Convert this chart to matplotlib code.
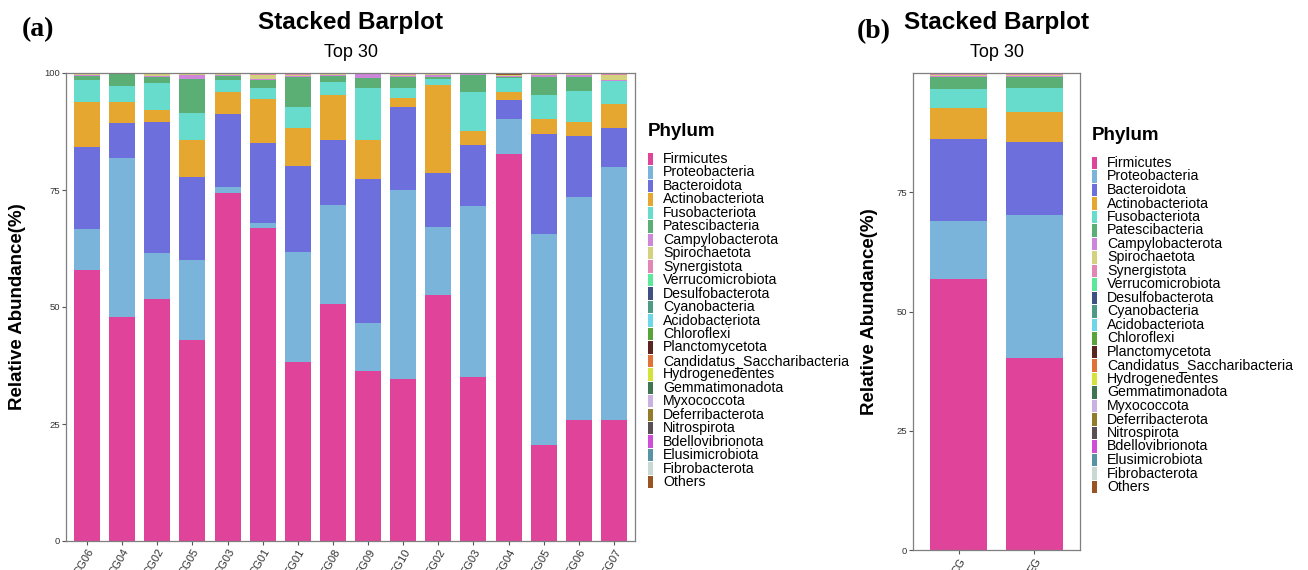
import matplotlib
matplotlib.use('Agg')
import matplotlib.pyplot as plt
from matplotlib.patches import Rectangle
from matplotlib.transforms import ScaledTranslation
import numpy as np

plt.rcParams['font.family'] = ['Liberation Sans', 'DejaVu Sans']

# --- data ---
phyla = ['Firmicutes', 'Proteobacteria', 'Bacteroidota', 'Actinobacteriota', 'Fusobacteriota',
         'Patescibacteria', 'Campylobacterota', 'Spirochaetota', 'Synergistota', 'Verrucomicrobiota',
         'Desulfobacterota', 'Cyanobacteria', 'Acidobacteriota', 'Chloroflexi', 'Planctomycetota',
         'Candidatus_Saccharibacteria', 'Hydrogenedentes', 'Gemmatimonadota', 'Myxococcota',
         'Deferribacterota', 'Nitrospirota', 'Bdellovibrionota', 'Elusimicrobiota', 'Fibrobacterota',
         'Others']
colors = ['#E0449A', '#7AB4DA', '#6D6FDD', '#E5A72F', '#67DCCC',
          '#5BAF74', '#CD86D9', '#D4D27E', '#E486B5', '#5CE89B',
          '#3F5183', '#4F9A85', '#6DD6E8', '#5AA33B', '#582520',
          '#E07238', '#D4E33C', '#3F7550', '#C9B2E1',
          '#937B2C', '#5B4F56', '#CE4ED8', '#5793A2', '#C9D8D3',
          '#9A5424']

samples_a = ['CG06', 'CG04', 'CG02', 'CG05', 'CG03', 'CG01', 'EG01', 'EG08',
             'EG09', 'EG10', 'EG02', 'EG03', 'EG04', 'EG05', 'EG06', 'EG07']
firmicutes_a = [57.9, 47.9, 51.7, 42.9, 74.4, 66.8, 38.2, 50.6, 36.3, 34.7, 52.5, 35.0, 82.7, 20.5, 25.8, 25.8]
proteo_a = [8.8, 34.0, 9.8, 17.1, 1.3, 1.1, 23.6, 21.2, 10.2, 40.3, 14.6, 36.6, 7.4, 45.2, 47.6, 54.2]
bactero_a = [17.5, 7.5, 28.0, 17.8, 15.5, 17.1, 18.3, 13.8, 30.9, 17.7, 11.5, 13.0, 4.2, 21.3, 13.2, 8.3]
actino_a = [9.6, 4.5, 2.7, 7.8, 4.8, 9.5, 8.2, 9.8, 8.3, 1.9, 18.8, 3.0, 1.7, 3.2, 2.9, 5.1]
fuso_a = [4.7, 3.3, 5.7, 5.9, 2.5, 2.4, 4.4, 2.6, 11.2, 2.1, 1.3, 8.3, 3.0, 5.2, 6.7, 4.8]
patesci_a = [0.8, 2.6, 1.2, 7.3, 0.9, 1.6, 6.5, 1.4, 2.0, 2.4, 0.5, 3.7, 0.2, 3.8, 3.0, 0.0]
campylo_a = [0.2, 0.1, 0.3, 0.7, 0.2, 0.3, 0.2, 0.2, 0.8, 0.3, 0.3, 0.1, 0.2, 0.3, 0.4, 0.4]
spiro_a = [0.2, 0.05, 0.3, 0.2, 0.2, 0.8, 0.2, 0.2, 0.1, 0.2, 0.2, 0.1, 0.1, 0.2, 0.1, 1.0]
synerg_a = [0.1, 0.0, 0.1, 0.1, 0.1, 0.1, 0.1, 0.1, 0.1, 0.2, 0.1, 0.1, 0.1, 0.1, 0.1, 0.1]
others_a = [0.2, 0.05, 0.2, 0.2, 0.1, 0.3, 0.3, 0.1, 0.1, 0.2, 0.2, 0.1, 0.4, 0.2, 0.2, 0.3]

samples_b = ['CG', 'EG']
firmicutes_b = [56.8, 40.3]
proteo_b = [12.2, 29.9]
bactero_b = [17.2, 15.4]
actino_b = [6.5, 6.3]
fuso_b = [3.9, 4.9]
patesci_b = [2.5, 2.3]
campylo_b = [0.3, 0.3]
spiro_b = [0.2, 0.2]
synerg_b = [0.1, 0.1]
others_b = [0.3, 0.3]

W, H = 1308, 570
fig = plt.figure(figsize=(W / 100, H / 100), dpi=100)


def px_axes(l, t, r, b):
    return fig.add_axes([l / W, 1 - b / H, (r - l) / W, (b - t) / H])


def stack(ax, samples, series):
    # series: dict phylum -> values, drawn in legend order
    x = np.arange(len(samples))
    bottom = np.zeros(len(samples))
    for name, col in zip(phyla, colors):
        vals = np.array(series.get(name, np.zeros(len(samples))), dtype=float)
        ax.bar(x, vals, width=0.74, bottom=bottom, color=col, linewidth=0)
        bottom += vals
    ax.set_xlim(-0.6, len(samples) - 0.4)
    ax.set_ylim(0, 100)
    ax.set_xticks(x)
    ax.set_xticklabels(samples, rotation=60, ha='right', va='top',
                       rotation_mode='anchor', fontsize=8, color='#333333')
    # ggplot-like hjust: nudge the rotated labels a little to the right
    shift = ScaledTranslation(5 / 100, 0, fig.dpi_scale_trans)
    for lbl in ax.get_xticklabels():
        lbl.set_transform(lbl.get_transform() + shift)
    for s in ax.spines.values():
        s.set_color('#7f7f7f')
        s.set_linewidth(0.9)
    ax.tick_params(axis='both', colors='#555555', length=3, width=0.8, pad=1.5,
                   labelsize=6.8, labelcolor='#333333')
    ax.tick_params(axis='x', labelsize=8)
    ax.set_ylabel('Relative Abundance(%)', fontsize=13.5, fontweight='bold', labelpad=13)


def legend(x_key, x_text, y_title, y_first, dy):
    fig.text(x_key / W, 1 - y_title / H, 'Phylum', fontsize=13.5, fontweight='bold',
             ha='left', va='center')
    for i, (name, col) in enumerate(zip(phyla, colors)):
        yc = y_first + i * dy
        fig.add_artist(Rectangle((x_key / W, 1 - (yc + 6.2) / H), 5 / W, 12.4 / H,
                                 transform=fig.transFigure, color=col, lw=0))
        fig.text(x_text / W, 1 - yc / H, name, fontsize=10.2, ha='left', va='center')


ax_a = px_axes(66, 73, 635, 541)
stack(ax_a, samples_a, {
    'Firmicutes': firmicutes_a, 'Proteobacteria': proteo_a, 'Bacteroidota': bactero_a,
    'Actinobacteriota': actino_a, 'Fusobacteriota': fuso_a, 'Patescibacteria': patesci_a,
    'Campylobacterota': campylo_a, 'Spirochaetota': spiro_a, 'Synergistota': synerg_a,
    'Others': others_a})
ax_a.set_yticks([0, 25, 50, 75, 100])

ax_b = px_axes(913, 73, 1080, 550)
stack(ax_b, samples_b, {
    'Firmicutes': firmicutes_b, 'Proteobacteria': proteo_b, 'Bacteroidota': bactero_b,
    'Actinobacteriota': actino_b, 'Fusobacteriota': fuso_b, 'Patescibacteria': patesci_b,
    'Campylobacterota': campylo_b, 'Spirochaetota': spiro_b, 'Synergistota': synerg_b,
    'Others': others_b})
ax_b.set_yticks([0, 25, 50, 75])

# titles
for ax in (ax_a, ax_b):
    ax.text(0.5, 1 + 50 / 468, 'Stacked Barplot', transform=ax.transAxes, ha='center',
            va='center', fontsize=17.5, fontweight='bold')
    ax.text(0.5, 1 + 20 / 468, 'Top 30', transform=ax.transAxes, ha='center',
            va='center', fontsize=13)

fig.text(38 / W, 1 - 30 / H, '(a)', fontsize=20, fontweight='bold', ha='center', va='center',
         family=['Liberation Serif', 'DejaVu Serif'])
fig.text(874 / W, 1 - 32 / H, '(b)', fontsize=20, fontweight='bold', ha='center', va='center',
         family=['Liberation Serif', 'DejaVu Serif'])

legend(648, 663, 131, 159, 13.46)
legend(1092, 1107, 135, 163, 13.5)

fig.savefig('out.png', dpi=100)
